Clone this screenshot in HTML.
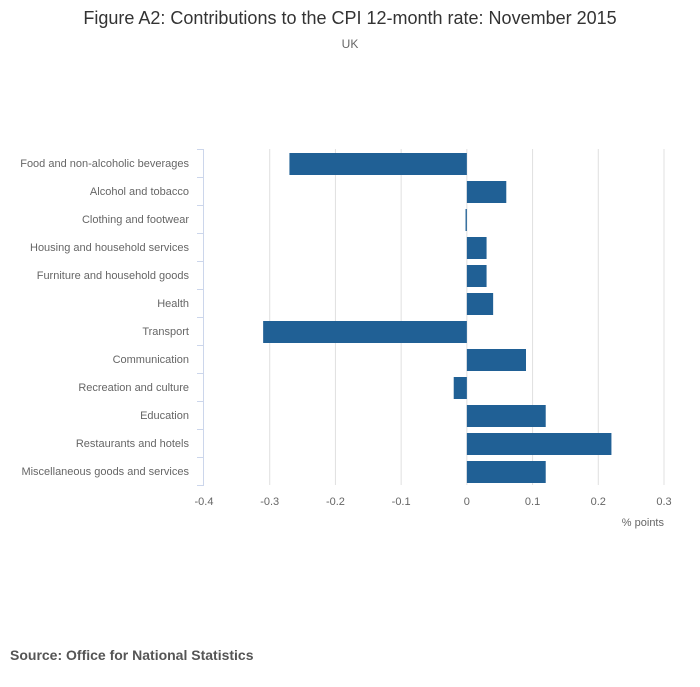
<!DOCTYPE html>
<html><head><meta charset="utf-8"><style>
body{margin:0;background:#fff;font-family:"Liberation Sans",sans-serif;}
</style></head><body>
<svg width="700" height="682" xmlns="http://www.w3.org/2000/svg" id="chart">
<text x="350" y="24" text-anchor="middle" font-size="18" fill="#333">Figure A2: Contributions to the CPI 12-month rate: November 2015</text>
<text x="350" y="48" text-anchor="middle" font-size="12" fill="#666">UK</text>
<g id="grid"></g><g id="bars"></g><g id="yaxis"></g><g id="xaxis"></g>
<text x="664" y="526" text-anchor="end" font-size="11" fill="#666">% points</text>
<text x="10" y="660" font-size="14" font-weight="bold" fill="#555">Source: Office for National Statistics</text>
</svg>
<script>
const categories=["Food and non-alcoholic beverages","Alcohol and tobacco","Clothing and footwear","Housing and household services","Furniture and household goods","Health","Transport","Communication","Recreation and culture","Education","Restaurants and hotels","Miscellaneous goods and services"];
const values=[-0.27,0.06,-0.002,0.03,0.03,0.04,-0.31,0.09,-0.02,0.12,0.22,0.12];
const ticks=[-0.4,-0.3,-0.2,-0.1,0,0.1,0.2,0.3];
const tickLabels=["-0.4","-0.3","-0.2","-0.1","0","0.1","0.2","0.3"];
const NS="http://www.w3.org/2000/svg";
const x0=204,x1=664,plotTop=149,step=28;
const x=v=>x0+(v+0.4)/0.7*(x1-x0);
function mk(tag,attrs,parent){const e=document.createElementNS(NS,tag);for(const k in attrs)e.setAttribute(k,attrs[k]);document.getElementById(parent).appendChild(e);return e;}
ticks.forEach((t,i)=>{
 if(i>0){const g=mk('line',{x1:x(t),x2:x(t),y1:plotTop,y2:plotTop+step*categories.length,stroke:'#e0e0e0','stroke-width':1},'grid');
 
 }
 const l=mk('text',{x:x(t),y:505,'text-anchor':'middle','font-size':11,fill:'#666'},'xaxis');l.textContent=tickLabels[i];
 
 
});
const ax=mk('line',{x1:203.5,x2:203.5,y1:plotTop,y2:plotTop+step*categories.length,stroke:'#ccd6eb'},'yaxis');


for(let i=0;i<=categories.length;i++){const tk=mk('line',{x1:197,x2:204,y1:plotTop+i*step+0.5,y2:plotTop+i*step+0.5,stroke:'#ccd6eb'},'yaxis');
 
 }
categories.forEach((c,i)=>{
 const cy=plotTop+i*step+step/2;
 const l=mk('text',{x:189,y:cy+4,'text-anchor':'end','font-size':11,fill:'#666'},'yaxis');l.textContent=c;
 
 
 const v=values[i],a=x(Math.min(0,v)),b=x(Math.max(0,v));
 const r=mk('rect',{x:a,y:cy-10,width:Math.max(1,b-a),height:22,fill:'#206095'},'bars');
 
 
});
</script>
</body></html>
